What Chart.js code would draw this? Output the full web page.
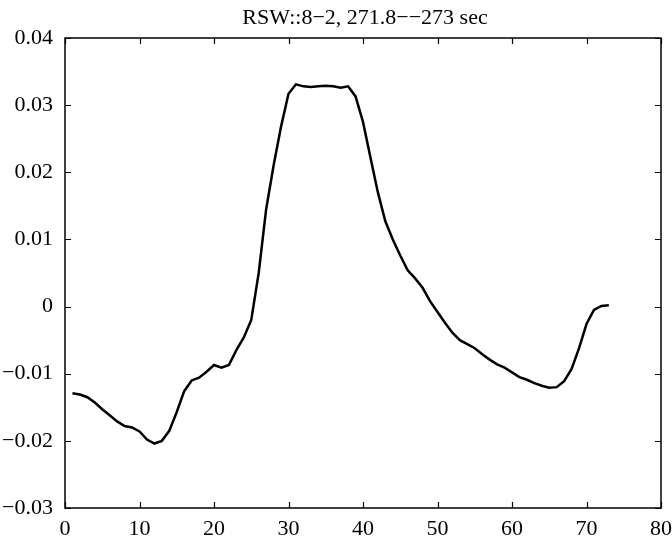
<!DOCTYPE html>
<html lang="en">
  <head>
    <meta charset="UTF-8" />
    <title>RSW::8-2</title>
    <style>
      body { margin: 0; background: #fff; }
      #grafico { display: block; }
    </style>
  </head>
  <body>
    <canvas id="grafico" width="672" height="538"></canvas>
    <script src="https://cdn.jsdelivr.net/npm/chart.js"></script>
    <script>
      // sample index and signal value
      const amostras = [];
      for (let i = 1; i <= 73; i++) amostras.push(i);
      const valores = [
        -0.0129, -0.0131, -0.0135, -0.0143, -0.0153, -0.0162, -0.0171, -0.0178, -0.0180, -0.0186,
        -0.0198, -0.0204, -0.0200, -0.0185, -0.0157, -0.0126, -0.0110, -0.0106, -0.0097, -0.0087,
        -0.0091, -0.0087, -0.0065, -0.0046, -0.0020, 0.0050, 0.0145, 0.0210, 0.0268, 0.0317,
        0.0331, 0.0328, 0.0327, 0.0328, 0.0329, 0.0328, 0.0326, 0.0328, 0.0313, 0.0275,
        0.0222, 0.0170, 0.0127, 0.0100, 0.0076, 0.0054, 0.0042, 0.0028, 0.0008, -0.0008,
        -0.0024, -0.0039, -0.0050, -0.0056, -0.0062, -0.0071, -0.0079, -0.0086, -0.0091, -0.0098,
        -0.0105, -0.0109, -0.0114, -0.0118, -0.0121, -0.0120, -0.0111, -0.0093, -0.0062, -0.0026,
        -0.0005, 0.0001, 0.0002
      ];
      const titulo = "RSW::8\u22122, 271.8\u2212\u2212273 sec";
      const limitesX = [0, 80];
      const limitesY = [-0.03, 0.04];

      const fonte = "'Liberation Serif', 'Times New Roman', serif";

      function rotuloY(v) {
        const r = Math.round(v * 100) / 100;
        if (r === 0) return "0";
        return r.toFixed(2).replace("-", "\u2212");
      }

      // box around the axes with ticks pointing inward (matlab style) + title over the plot
      const caixa = {
        id: "caixa",
        afterDraw(chart) {
          const ctx = chart.ctx;
          const a = chart.chartArea;
          const sx = chart.scales.x;
          const sy = chart.scales.y;
          const t = 6;
          ctx.save();
          ctx.strokeStyle = "#000";
          ctx.lineWidth = 1.2;
          ctx.beginPath();
          sx.ticks.forEach((tk) => {
            const px = Math.round(sx.getPixelForValue(tk.value)) + 0.5;
            ctx.moveTo(px, a.bottom);
            ctx.lineTo(px, a.bottom - t);
            ctx.moveTo(px, a.top);
            ctx.lineTo(px, a.top + t);
          });
          sy.ticks.forEach((tk) => {
            const py = Math.round(sy.getPixelForValue(tk.value)) + 0.5;
            ctx.moveTo(a.left, py);
            ctx.lineTo(a.left + t, py);
            ctx.moveTo(a.right, py);
            ctx.lineTo(a.right - t, py);
          });
          ctx.stroke();
          ctx.lineWidth = 1.5;
          ctx.strokeRect(a.left, a.top, a.right - a.left, a.bottom - a.top);

          ctx.fillStyle = "#000";
          ctx.font = "22px " + fonte;
          ctx.textAlign = "center";
          ctx.textBaseline = "alphabetic";
          ctx.fillText(titulo, (a.left + a.right) / 2 + 2, 24);
          ctx.restore();
        }
      };

      new Chart(document.getElementById("grafico"), {
        type: "line",
        data: {
          datasets: [
            {
              data: amostras.map((x, i) => ({ x: x, y: valores[i] })),
              borderColor: "#000",
              borderWidth: 2.5,
              pointRadius: 0,
              tension: 0,
              fill: false
            }
          ]
        },
        options: {
          responsive: false,
          animation: false,
          devicePixelRatio: 1,
          layout: { padding: { left: 0, right: 11, top: 38, bottom: 0 } },
          plugins: {
            legend: { display: false },
            tooltip: { enabled: false },
            title: { display: false }
          },
          scales: {
            x: {
              type: "linear",
              min: limitesX[0],
              max: limitesX[1],
              grid: { display: false },
              border: { display: false },
              ticks: {
                stepSize: 10,
                color: "#000",
                padding: 0,
                font: { family: fonte, size: 22 },
                maxRotation: 0
              },
              afterFit(s) {
                s.height = 30;
                s.paddingLeft = 0;
                s.paddingRight = 0;
              }
            },
            y: {
              min: limitesY[0],
              max: limitesY[1],
              grid: { display: false },
              border: { display: false },
              ticks: {
                stepSize: 0.01,
                color: "#000",
                padding: 4,
                font: { family: fonte, size: 22 },
                callback: rotuloY
              },
              afterFit(s) {
                s.width = 65;
                s.paddingTop = 0;
                s.paddingBottom = 0;
              }
            }
          }
        },
        plugins: [caixa]
      });
    </script>
  </body>
</html>
